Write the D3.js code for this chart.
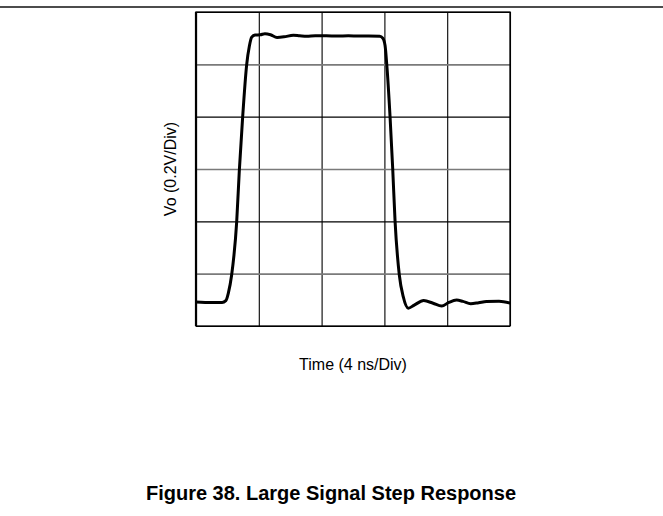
<!DOCTYPE html>
<html>
<head>
<meta charset="utf-8">
<script src="https://cdn.jsdelivr.net/npm/d3@7"></script>
<style>
  html, body { margin: 0; padding: 0; background: #fff; }
  svg { display: block; }
  text { font-family: "Liberation Sans", Arial, Helvetica, sans-serif; fill: #000; }
</style>
</head>
<body>
<svg id="chart" width="663" height="516"></svg>
<script>
// Scope trace: time in ns (5 divisions of 4 ns), output voltage in V (6 divisions of 0.2 V)
const timeNs = [0, 1.0, 1.66, 1.9, 2.06, 2.27, 2.59, 2.76, 2.97, 3.23, 3.4, 3.55, 3.76, 4.1, 4.39, 4.75,
  5.16, 5.6, 6.2, 6.6, 7.05, 7.6, 8.3, 9.0, 9.7, 10.4, 11.0, 11.7, 11.9, 12.04, 12.15, 12.36, 12.53,
  12.68, 12.95, 13.2, 13.52, 13.9, 14.5, 15.1, 15.65, 16.1, 16.6, 17.0, 17.5, 18.0, 18.5, 19.3, 20];
const voltage = [0.092, 0.09, 0.09, 0.097, 0.126, 0.195, 0.397, 0.595, 0.797, 1.0, 1.07, 1.104, 1.112,
  1.113, 1.117, 1.113, 1.103, 1.105, 1.111, 1.109, 1.107, 1.109, 1.109, 1.108, 1.109, 1.108, 1.108,
  1.107, 1.10, 1.073, 1.0, 0.8, 0.6, 0.4, 0.195, 0.112, 0.068, 0.080, 0.097, 0.087, 0.076, 0.090,
  0.099, 0.094, 0.085, 0.089, 0.094, 0.095, 0.088];
const xDivTicks = [0, 4, 8, 12, 16, 20];
const yDivTicks = [0, 0.2, 0.4, 0.6, 0.8, 1.0, 1.2];
const xLabel = "Time (4 ns/Div)";
const yLabel = "Vo (0.2V/Div)";
const caption = "Figure 38. Large Signal Step Response";

const svg = d3.select("#chart");
const pL = 196, pR = 510, pT = 12, pB = 326;

const x = d3.scaleLinear().domain([0, 20]).range([pL, pR]);
const y = d3.scaleLinear().domain([0, 1.2]).range([pB, pT]);

// page rule at top
svg.append("line").attr("x1", 0).attr("x2", 663).attr("y1", 7).attr("y2", 7)
  .attr("stroke", "#111").attr("stroke-width", 1.6);

// vertical grid (black)
const gx = svg.append("g").attr("transform", `translate(0,${pB})`)
  .call(d3.axisBottom(x).tickValues(xDivTicks).tickSize(-(pB - pT)).tickFormat(""));
gx.select(".domain").remove();
gx.selectAll(".tick line").attr("stroke", "#000").attr("stroke-width", 1.1);

// horizontal grid (alternating gray / black)
const gy = svg.append("g").attr("transform", `translate(${pL},0)`)
  .call(d3.axisLeft(y).tickValues(yDivTicks).tickSize(-(pR - pL)).tickFormat(""));
gy.select(".domain").remove();
gy.selectAll(".tick line")
  .attr("stroke", (d, i) => (i % 2 === 1) ? "#7a7a7a" : "#000")
  .attr("stroke-width", (d, i) => (i % 2 === 1) ? 1.6 : 1.1);

// frame
svg.append("rect").attr("x", pL).attr("y", pT).attr("width", pR - pL).attr("height", pB - pT)
  .attr("fill", "none").attr("stroke", "#000").attr("stroke-width", 1.3);
svg.append("line").attr("x1", pL).attr("x2", pL).attr("y1", pT).attr("y2", pB)
  .attr("stroke", "#000").attr("stroke-width", 2.2);

// trace
svg.append("clipPath").attr("id", "clip").append("rect")
  .attr("x", pL).attr("y", pT).attr("width", pR - pL).attr("height", pB - pT);
const pts = timeNs.map((t, i) => [t, voltage[i]]);
const line = d3.line().x(d => x(d[0])).y(d => y(d[1])).curve(d3.curveMonotoneX);
svg.append("path").datum(pts).attr("d", line).attr("clip-path", "url(#clip)")
  .attr("fill", "none").attr("stroke", "#000").attr("stroke-width", 3)
  .attr("stroke-linejoin", "round").attr("stroke-linecap", "round");

// labels
svg.append("text").attr("x", (pL + pR) / 2).attr("y", 370).attr("text-anchor", "middle")
  .style("font-size", "16px").text(xLabel);
svg.append("text").attr("transform", `translate(176,${(pT + pB) / 2}) rotate(-90)`)
  .attr("text-anchor", "middle").style("font-size", "16px").text(yLabel);
svg.append("text").attr("x", 331).attr("y", 500).attr("text-anchor", "middle")
  .style("font-size", "20px").style("font-weight", "bold").text(caption);
</script>
</body>
</html>
